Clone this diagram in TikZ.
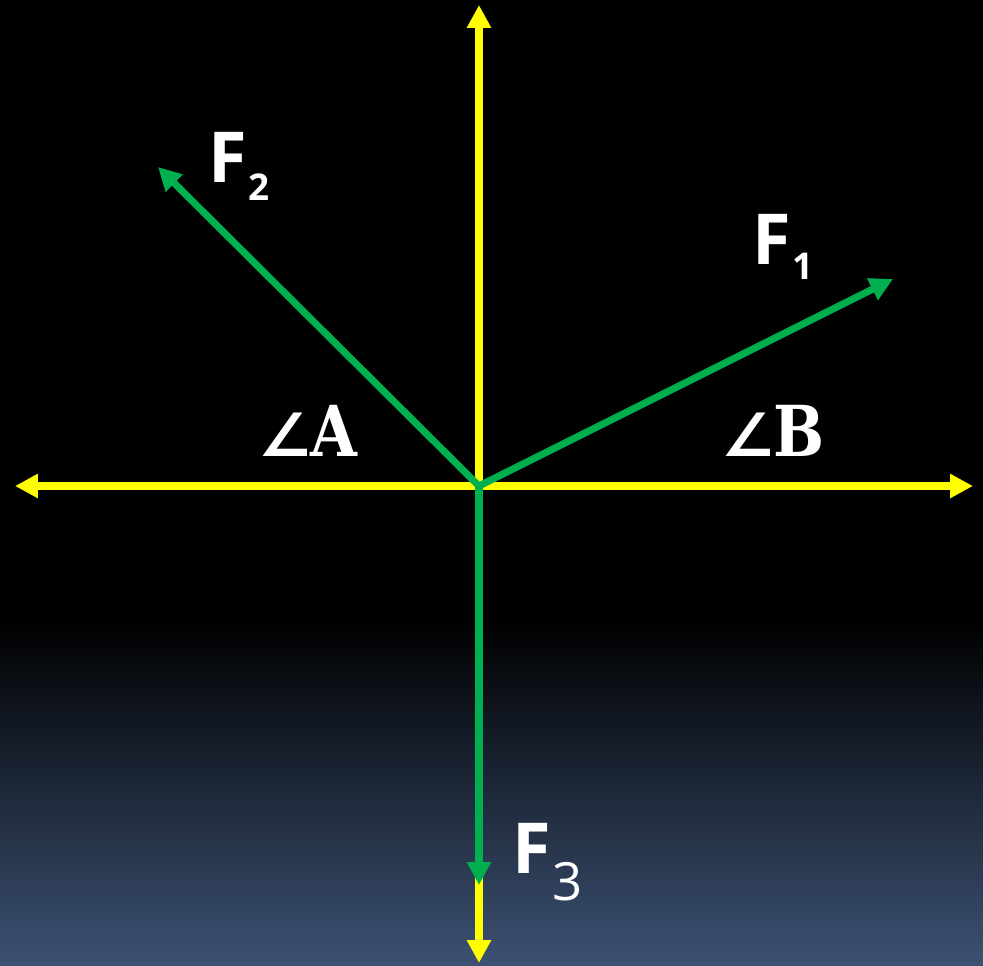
\documentclass[tikz,border=0pt]{standalone}
\usepackage{fontspec}
\usepackage{tikz}
\usetikzlibrary{arrows.meta}
\setmainfont{Open Sans}
\newfontfamily\anglefont{DejaVu Sans}
\newfontfamily\letterfont{DejaVu Serif}
\definecolor{ForceGreen}{RGB}{0, 176, 80}
\definecolor{AxisYellow}{RGB}{255, 255, 0}
\definecolor{BackgroundBlue}{RGB}{60, 81, 115}
\newcommand{\forcelabel}[3]{F\kern1pt\raisebox{#3}{\fontsize{#1}{#1}\selectfont #2}}
\newcommand{\anglelabel}[1]{{\anglefont\fontsize{34}{34}\selectfont ∠}\kern-1pt\scalebox{0.86}[1]{\letterfont\bfseries\fontsize{40}{40}\selectfont #1}}

\begin{document}
\begin{tikzpicture}[
    x=0.02cm, y=-0.02cm,
    axis/.style={draw=AxisYellow, line width=4pt, {Triangle[length=4.6mm,width=4.6mm]}-{Triangle[length=4.6mm,width=4.6mm]}},
    force/.style={draw=ForceGreen, line width=4pt, -{Triangle[length=4.6mm,width=4.6mm]}},
    label/.style={text=white, inner sep=0pt, font=\bfseries\fontsize{40}{40}\selectfont}
]
% background
\fill[black] (0,0) rectangle (983,966);
\shade[top color=black, bottom color=BackgroundBlue] (0,620) rectangle (983,966);
\useasboundingbox (0,0) rectangle (983,966);

% axes
\coordinate (origin) at (479,486);
\coordinate (left) at (15,486);
\coordinate (right) at (973,486);
\coordinate (top) at (479,5);
\coordinate (bottom) at (479,963);
\draw[axis] (left) -- (right);
\draw[axis] (top) -- (bottom);

% forces
\coordinate (f1tip) at (893,279);
\coordinate (f2tip) at (158,167);
\coordinate (f3tip) at (479,885);
\draw[force] (origin) -- (f1tip);
\draw[force] (origin) -- (f2tip);
\draw[force] (origin) -- (f3tip);

% labels
\node[label, anchor=base west] (f2label) at (208,183) {\forcelabel{21}{2}{-9.7pt}};
\node[label, anchor=base west] (f1label) at (752,264) {\forcelabel{21}{1}{-9.1pt}};
\node[label, anchor=base west] (f3label) at (512,873) {\forcelabel{30}{\mdseries 3}{-15.4pt}};
\node[label, anchor=base west] (anglea) at (258,456) {\anglelabel{A}};
\node[label, anchor=base west] (angleb) at (721,456) {\anglelabel{B}};
\end{tikzpicture}
\end{document}
